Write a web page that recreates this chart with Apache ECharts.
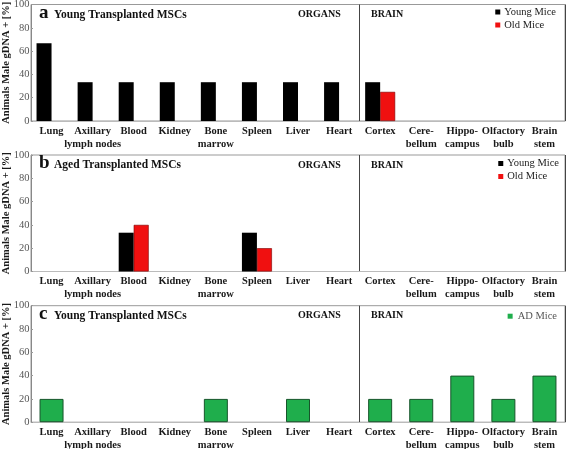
<!DOCTYPE html>
<html><head><meta charset="utf-8">
<script src="https://cdn.jsdelivr.net/npm/echarts@6/dist/echarts.min.js"></script>
<style>html,body{margin:0;padding:0;background:#fff;}#c{width:567px;height:449px;}</style>
</head><body><div id="c"></div>
<script>
const categories = ['Lung','Axillary\nlymph nodes','Blood','Kidney','Bone\nmarrow','Spleen','Liver','Heart','Cortex','Cere-\nbellum','Hippo-\ncampus','Olfactory\nbulb','Brain\nstem'];
const youngA = [66.7,33.3,33.3,33.3,33.3,33.3,33.3,33.3,33.3,0,0,0,0];
const oldA   = [0,0,0,0,0,0,0,0,25,0,0,0,0];
const youngB = [0,0,33.3,0,0,33.3,0,0,0,0,0,0,0];
const oldB   = [0,0,40,0,0,20,0,0,0,0,0,0,0];
const adC    = [20,0,0,0,20,0,20,0,20,20,40,20,40];
const yMin = 0, yMax = 100, yStep = 20;
const organCount = 8; // categories before the ORGANS | BRAIN divider
const panelLetters = ['a','b','c'];
const panelTitles = ['Young Transplanted MSCs','Aged Transplanted MSCs','Young Transplanted MSCs'];
const yName = 'Animals Male gDNA + [%]';

const SERIF = '"Liberation Serif","DejaVu Serif",serif';
const tops = [4.5, 155, 305.7];
const H = 116.5;
const chart = echarts.init(document.getElementById('c'), null, {renderer:'canvas'});
const nz = a => a.map(v => v === 0 ? null : v);

const grids = tops.map(t => ({left:31, width:534, top:t, height:H, show:true, borderColor:'#999', borderWidth:1, containLabel:false, outerBoundsMode:'none'}));
const xAxes = [];
tops.forEach((t,i) => {
  xAxes.push({
    type:'category', gridIndex:i, data:categories,
    axisLine:{show:true, lineStyle:{color:'#bbb'}}, axisTick:{show:false},
    axisLabel:{interval:0, margin:3.5, fontFamily:SERIF, fontWeight:'bold', fontSize:10.5, lineHeight:13, color:'#1a1a1a'},
    splitLine:{show:false}
  });
});
tops.forEach((t,i) => {
  xAxes.push({
    type:'value', gridIndex:i, min:0, max:categories.length, interval:organCount,
    axisLine:{show:false}, axisTick:{show:false}, axisLabel:{show:false},
    splitLine:{show:true, lineStyle:{color:'#444', width:1}}
  });
});
const yAxes = tops.map((t,i) => ({
  type:'value', gridIndex:i, min:yMin, max:yMax, interval:yStep,
  name:yName, nameLocation:'middle', nameGap:19, nameRotate:90, nameMoveOverlap:false,
  nameTextStyle:{fontFamily:SERIF, fontWeight:'bold', fontSize:10.5, color:'#1a1a1a'},
  axisLine:{show:true, lineStyle:{color:'#888'}},
  axisTick:{show:true, inside:true, length:2, lineStyle:{color:'#999'}},
  axisLabel:{margin:1.5, fontFamily:SERIF, fontSize:10.5, color:'#555'},
  splitLine:{show:false}
}));
const titles = [];
tops.forEach((t,i) => {
  titles.push({left:39, top:t-1, padding:0, text:panelLetters[i], textStyle:{fontFamily:SERIF, fontWeight:'bold', fontSize:19, color:'#111'}});
  titles.push({left:54, top:t+4.5, padding:0, text:panelTitles[i], textStyle:{fontFamily:SERIF, fontWeight:'bold', fontSize:11.5, color:'#111'}});
  titles.push({left:298, top:t+5, padding:0, text:'ORGANS', textStyle:{fontFamily:SERIF, fontWeight:'bold', fontSize:10, color:'#111'}});
  titles.push({left:371, top:t+5, padding:0, text:'BRAIN', textStyle:{fontFamily:SERIF, fontWeight:'bold', fontSize:10, color:'#111'}});
});
const legendBase = {orient:'vertical', icon:'rect', itemWidth:5, itemHeight:5, itemGap:2, padding:0,
  itemStyle:{borderWidth:0},
  textStyle:{fontFamily:SERIF, fontSize:10.5, color:'#222', padding:[0,0,0,-1]}};
const legends = [
  Object.assign({}, legendBase, {right:11, top:tops[0]+2, data:['Young Mice','Old Mice']}),
  Object.assign({}, legendBase, {right:8, top:tops[1]+3, data:['Young Mice','Old Mice']}),
  Object.assign({}, legendBase, {right:10, top:tops[2]+5, data:['AD Mice'], textStyle:{fontFamily:SERIF, fontSize:10.5, color:'#555'}})
];
const blk = {color:'#000'};
const red = {color:'#f01010', borderColor:'#7a0000', borderWidth:0.6};
const grn = {color:'#1fae4c', borderColor:'#17552b', borderWidth:1};
const series = [
  {name:'Young Mice', type:'bar', xAxisIndex:0, yAxisIndex:0, data:nz(youngA), barWidth:15, barGap:'0%', itemStyle:blk},
  {name:'Old Mice',   type:'bar', xAxisIndex:0, yAxisIndex:0, data:nz(oldA),   barWidth:15, barGap:'0%', itemStyle:red},
  {name:'Young Mice', type:'bar', xAxisIndex:1, yAxisIndex:1, data:nz(youngB), barWidth:15, barGap:'0%', itemStyle:blk},
  {name:'Old Mice',   type:'bar', xAxisIndex:1, yAxisIndex:1, data:nz(oldB),   barWidth:15, barGap:'0%', itemStyle:red},
  {name:'AD Mice',    type:'bar', xAxisIndex:2, yAxisIndex:2, data:nz(adC),    barWidth:24, itemStyle:grn}
];
chart.setOption({animation:false, backgroundColor:'#fff', grid:grids, xAxis:xAxes, yAxis:yAxes, title:titles, legend:legends, series:series});
</script></body></html>
